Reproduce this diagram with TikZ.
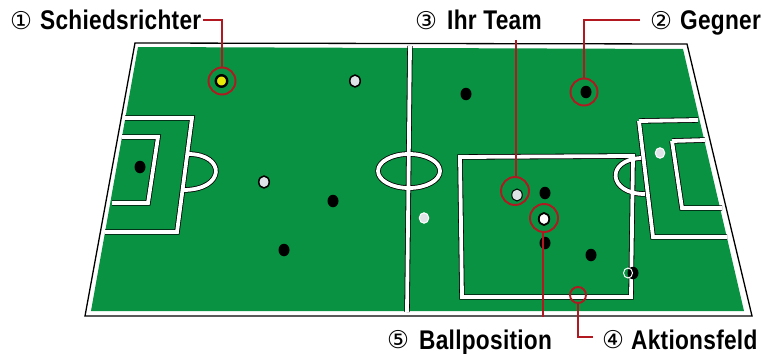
\documentclass[tikz,border=0pt]{standalone}
\usepackage{fontspec}
\setmainfont{Liberation Sans}
\newfontfamily\labelfont[FakeStretch=0.84,LetterSpace=1]{Liberation Sans Bold}
\newfontfamily\numfont{DejaVu Sans}
\definecolor{pitch}{RGB}{8,146,66}
\definecolor{redline}{RGB}{178,24,32}
\definecolor{palep}{RGB}{222,228,232}
\usetikzlibrary{shapes.geometric}
\tikzset{
  lbl/.style={inner sep=0pt,anchor=base west,font=\labelfont\fontsize{27}{27}\selectfont},
  num/.style={inner sep=0pt,anchor=center,font=\numfont\fontsize{24.5}{25}\selectfont},
  pblack/.style={ellipse,fill=black,inner sep=0pt,minimum width=11pt,minimum height=12.5pt},
  pwhite/.style={ellipse,fill=palep,draw=black,line width=1.5pt,inner sep=0pt,minimum width=10.5pt,minimum height=12pt},
  ppale/.style={ellipse,fill=palep,draw=white,line width=1pt,inner sep=0pt,minimum width=9.5pt,minimum height=10.5pt},
  pyellow/.style={circle,fill=yellow!90!green,draw=black,line width=2.4pt,inner sep=0pt,minimum size=11.5pt},
  ring/.style={circle,draw=redline,line width=1.9pt,inner sep=0pt,fill=none},
  conn/.style={draw=redline,line width=1.9pt},
}
\newcommand{\fieldpaths}{%
  \foreach \lw/\cc in {5.4/black,3.8/white}{
    \begin{scope}[draw=\cc,line width=\lw pt,line join=miter]
    \draw (410,46) -- (407,312);
    \draw (409,171) ellipse [x radius=31,y radius=17];
    \draw (125,118) -- (192,118) -- (177,232) -- (105,232);
    \draw (122,137) -- (158,137) -- (148,203) -- (112,203);
    \draw (188,154) .. controls (226,154) and (226,190) .. (183,190);
    \draw (639,121) -- (698,120);
    \draw (639,121) -- (653,237) -- (727,237);
    \draw (672,141) -- (705,140);
    \draw (672,141) -- (682,208) -- (722,208);
    \draw (641,158) .. controls (605,160) and (608,194) .. (645,194);
    \draw (460,157) -- (633,156) -- (631,297) -- (462,297) -- cycle;
    \end{scope}
  }%
}
\begin{document}
\begin{tikzpicture}[x=1pt,y=-1pt]
\useasboundingbox (0,0) rectangle (762,353);
\fill[white] (0,0) rectangle (762,353);
% pitch
\filldraw[fill=white,draw=black,line width=1.3pt] (135,43) -- (687,44) -- (752,316) -- (85,316) -- cycle;
\fill[pitch] (138,47) -- (683,49) -- (744,311) -- (91,311) -- cycle;
\begin{scope}
\clip (135,43) -- (687,44) -- (752,316) -- (85,316) -- cycle;
\fieldpaths
\end{scope}
% players
\node[pyellow] (ref) at (221.5,81) {};
\node[pwhite] (w1) at (355,81) {};
\node[pblack] (b1) at (140,167) {};
\node[pwhite] (w2) at (264,182) {};
\node[pblack] (b2) at (333,201) {};
\node[pblack] (b3) at (284,250) {};
\node[pblack] (b4) at (466,94) {};
\node[pblack] (opp) at (586,92) {};
\node[ppale] (w3) at (660,153) {};
\node[ppale] (w4) at (424,218) {};
\node[pblack] (b5) at (545,193) {};
\node[pblack] (b6) at (545,243) {};
\node[pblack] (b7) at (591,255) {};
\node[pblack] (b8) at (633,273) {};
\node[ppale,fill=none,minimum width=9pt,minimum height=10pt] (w5) at (628,273) {};
\node[pwhite,line width=1pt] (team) at (517,195) {};
\node[pwhite,fill=white,line width=1.8pt] (ball) at (544,219) {};
% red rings
\node[ring,minimum size=27pt] (rref) at (222,81) {};
\node[ring,minimum size=27pt] (ropp) at (584,92) {};
\node[ring,minimum size=28pt] (rteam) at (515,191) {};
\node[ring,minimum size=28pt] (rball) at (544,218) {};
\node[ring,minimum size=16pt] (rfield) at (578,295) {};
% labels
\node[num] (n1) at (21,21) {①};
\node[lbl] (l1) at (40,30) {Schiedsrichter};
\node[num] (n3) at (426,21) {③};
\node[lbl] (l3) at (447,30) {Ihr Team};
\node[num] (n2) at (661,21) {②};
\node[lbl] (l2) at (680,30) {Gegner};
\node[num] (n5) at (398,340) {⑤};
\node[lbl] (l5) at (419,349.5) {Ballposition};
\node[num] (n4) at (613,340) {④};
\node[lbl] (l4) at (631,349.5) {Aktionsfeld};
% connectors
\coordinate (c2) at (640,20);
\coordinate (c3) at (516,40);
\coordinate (c4) at (593,337);
\coordinate (c5) at (543,317);
\coordinate (c1) at (203,20);
\draw[conn] (c1) -| (rref.north);
\draw[conn] (c2) -| (ropp.north);
\draw[conn] (c3) -- (c3 |- rteam.north);
\draw[conn] (c5) -- (c5 |- rball.south);
\draw[conn] (c4) -| (rfield.south);
\end{tikzpicture}
\end{document}
